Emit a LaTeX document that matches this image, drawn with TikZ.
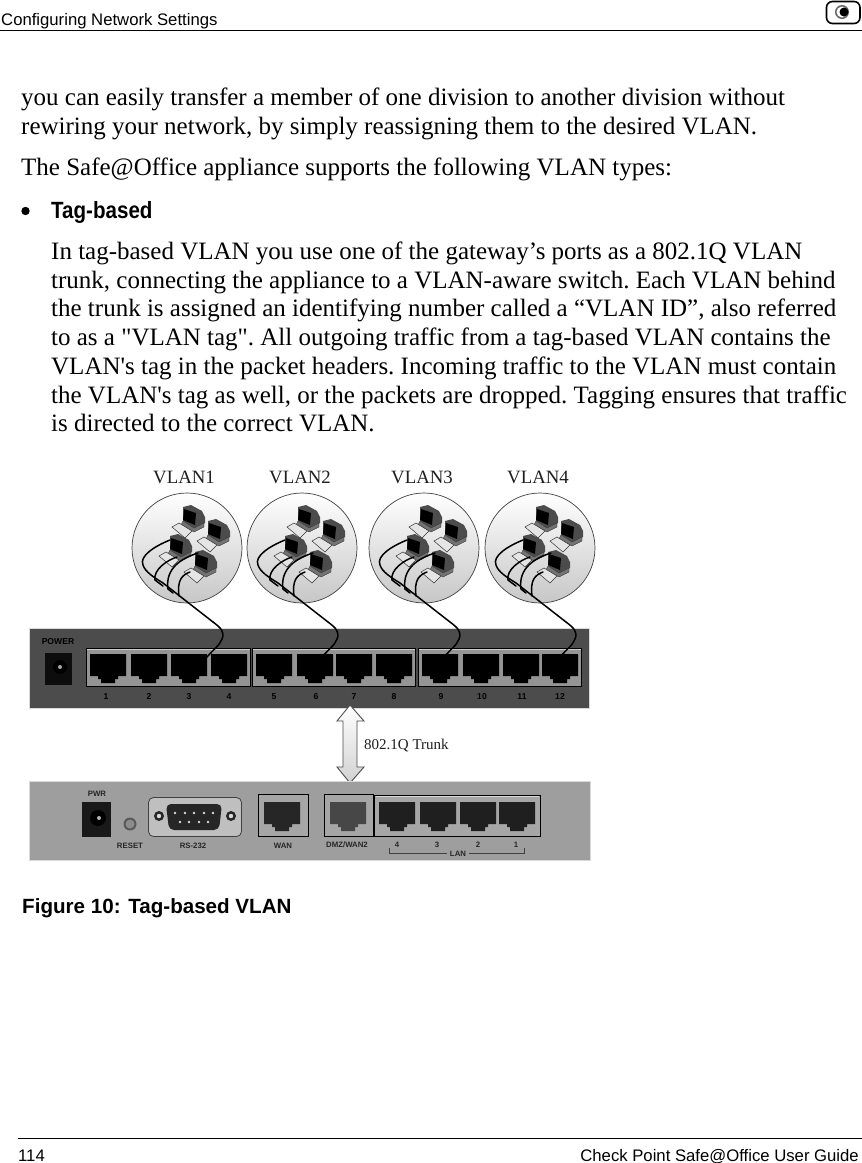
\documentclass[tikz,border=0pt]{standalone}
\usepackage{fontspec}
\setmainfont{Liberation Serif}
\setsansfont{Liberation Sans}
\newfontfamily\bodyfont{Liberation Serif}
\newfontfamily\headfont[FakeStretch=0.875]{Liberation Sans}
\usetikzlibrary{calc}
\tikzset{
  bodytext/.style={anchor=base west,inner sep=0pt,font=\bodyfont\frenchspacing\fontsize{25}{28}\selectfont},
  sanstext/.style={anchor=base west,inner sep=0pt,font=\sffamily\fontsize{16.7}{18}\selectfont},
  vlantext/.style={inner sep=0pt,font=\fontsize{18.8}{20}\selectfont,text=black!88},
  tinytop/.style={inner sep=0pt,text height=6pt,text depth=0pt,font=\sffamily\bfseries\fontsize{8.6}{9}\selectfont,text=black},
  tinybot/.style={inner sep=0pt,text height=5.6pt,text depth=0pt,font=\sffamily\bfseries\fontsize{7.8}{8}\selectfont,text=black!85},
  cable/.style={draw=black,line width=1.5pt,line cap=round},
  portgroup/.style={draw=black,line width=.8pt,fill=black!42},
  pics/port/.style={code={
    \fill[#1] (0,0)--(36,0)--(36,22)--(28,22)--(28,25)--(25,25)--(25,29)--(11,29)--(11,25)--(8,25)--(8,22)--(0,22)--cycle;
  }},
  pics/computer/.style={code={
    \fill[black!70] (-10,-11)--(-2,-13)--(9,-7)--(12,-1)--(12,5)--(2,11)--(-10,3)--cycle;
    \fill[black] (-9,-9)--(3,-5)--(2,7)--(-10,2)--cycle;
    \fill[black!55,draw=black!80,line width=.3pt] (-10,3)--(1,10)--(11,5)--(11,9)--(1,14)--(-12,7)--cycle;
    \fill[black!10,draw=black!80,line width=.5pt] (-21,9)--(-14,5)--(-1,13)--(-8,20)--cycle;
  }},
  pics/vlancircle/.style={code={
    \shade[top color=white,bottom color=black!22,draw=black!75,line width=.7pt] (0,0) circle[radius=55];
    \pic at (6,-30) {computer};
    \pic at (31,-16) {computer};
    \pic at (-7,-1) {computer};
    \pic at (18,15) {computer};
    \draw[cable] (-17,-8) .. controls (-32,-2) and (-48,8) .. (-44,17) .. controls (-42,24) and (-32,30) .. (-24,35) -- (26,74);
    \draw[cable] (-10,9) .. controls (-20,12) and (-34,22) .. (-32,32) -- (-24,38);
    \draw[cable] (11,5) .. controls (-5,10) and (-22,20) .. (-19,41) -- (-14,45);
    \draw[cable] (3,24) .. controls (-5,27) and (-10,32) .. (-8,48);
    \draw[cable] (26,74) .. controls (34,80) and (38,84) .. (35,91);
  }},
}
\begin{document}
\begin{tikzpicture}[x=1pt,y=-1pt]
\useasboundingbox (0,0) rectangle (862,1163);
\fill[white] (0,0) rectangle (862,1163);
% header
\node[sanstext] (head) at (1,25) {Configuring Network Settings};
\draw[black,line width=1pt] (0,30.5) -- (862,30.5);
\draw[black,line width=1.6pt,rounded corners=6pt] (826.5,1.5) rectangle (860,23.5);
\fill[black!60] (842,12) circle[radius=7];
\fill[white] (842,12) circle[radius=5.5];
\fill[black] (844,12) circle[radius=4.5];
% body
\node[bodytext] (l1) at (21,105) {you can easily transfer a member of one division to another division without};
\node[bodytext] (l2) at (21,134) {rewiring your network, by simply reassigning them to the desired VLAN.};
\node[bodytext] (l3) at (21,175) {The Safe@Office appliance supports the following VLAN types:};
\fill[black] (25.5,211) circle[radius=4.2];
\node[anchor=base west,inner sep=0pt,font=\headfont\bfseries\fontsize{23.5}{26}\selectfont] (tag) at (51,218) {Tag-based};
\node[bodytext] (p1) at (51,259) {In tag-based VLAN you use one of the gateway’s ports as a 802.1Q VLAN};
\node[bodytext] (p2) at (51,288) {trunk, connecting the appliance to a VLAN-aware switch. Each VLAN behind};
\node[bodytext] (p3) at (51,316) {the trunk is assigned an identifying number called a “VLAN ID”, also referred};
\node[bodytext] (p4) at (51,345) {to as a "VLAN tag". All outgoing traffic from a tag-based VLAN contains the};
\node[bodytext] (p5) at (51,374) {VLAN's tag in the packet headers. Incoming traffic to the VLAN must contain};
\node[bodytext] (p6) at (51,403) {the VLAN's tag as well, or the packets are dropped. Tagging ensures that traffic};
\node[bodytext] (p7) at (51,431) {is directed to the correct VLAN.};
% VLAN labels
\node[vlantext] (v1) at (184,477) {VLAN1};
\node[vlantext] (v2) at (300,477) {VLAN2};
\node[vlantext] (v3) at (422,477) {VLAN3};
\node[vlantext] (v4) at (538,477) {VLAN4};
% top panel
\fill[black!70,draw=black!15,line width=.6pt] (29,628.5) rectangle (589,708);
\node[tinytop] (power) at (58,641) {POWER};
\fill[black!95] (45,653) rectangle (72,685);
\fill[black] (60,667) circle[radius=7];
\fill[black!35] (60,667) circle[radius=2];
\foreach \a/\b in {86/250,252/415,418/581}{
  \filldraw[portgroup] (\a,648) rectangle (\b,686);
  \draw[black!20,line width=1pt] (\a+.5,649) -- (\b-.5,649);
}
\foreach \x in {90,131,171,211,256,297,336,376,422,463,503,542}{
  \pic at (\x,654) {port={black}};
}
\foreach \x/\n in {106/1,149/2,189/3,229/4,274/5,316/6,354/7,394/8,441/9,482/10,522/11,560/12}{
  \node[tinytop] (t\n) at (\x,696) {\n};
}
% circles and cables
\pic at (187,548) {vlancircle};
\pic at (302,548) {vlancircle};
\pic at (424,548) {vlancircle};
\pic at (540,548) {vlancircle};
\foreach \x in {187,302,424,540}{
  \draw[cable] (\x+35,639) .. controls (\x+33,645) and (\x+26,650) .. (\x+20,657);
}
% trunk arrow
\shade[top color=white,bottom color=black!18,draw=black!70,line width=.9pt]
  (350,705)--(364,721)--(357,721)--(357,767)--(364,767)--(350,783)--(337,767)--(343,767)--(343,721)--(337,721)--cycle;
\node[anchor=west,inner sep=0pt,font=\fontsize{15}{16}\selectfont,text=black!88] (trunk) at (364,746) {802.1Q Trunk};
% bottom panel
\fill[black!38,draw=black!15,line width=.6pt] (29,781) rectangle (590,860);
\node[tinybot] (pwr) at (97,794) {PWR};
\fill[black!90] (82,802) rectangle (111,837);
\fill[black] (98,818) circle[radius=8];
\fill[black!30] (99,818) circle[radius=2];
\fill[black!65] (130,824) circle[radius=6.5];
\fill[black!45] (130,824) circle[radius=4.5];
\node[tinybot] (reset) at (130,846) {RESET};
\filldraw[fill=black!25,draw=black!75,line width=.8pt,rounded corners=5pt] (148.5,797.5) rectangle (241.5,836.5);
\fill[black!85,rounded corners=5pt] (166,804) -- (222,804) -- (219,830) -- (169,830) -- cycle;
\foreach \x in {175,185,194,204,213}{\fill[black!15] (\x,813) circle[radius=1.3];}
\foreach \x in {180,189,199,208}{\fill[black!15] (\x,822) circle[radius=1.3];}
\foreach \x in {159,231}{\fill[black!85] (\x,816) circle[radius=5];\fill[black!15] (\x,816) circle[radius=2.2];}
\node[tinybot] (rs) at (193,846) {RS-232};
\filldraw[fill=black!35,draw=black,line width=1pt] (258,794.5) rectangle (308,836.5);
\pic at (264,802) {port={black!85}};
\node[tinybot] (wan) at (283,846) {WAN};
\filldraw[fill=black!35,draw=black,line width=1pt] (324,794.5) rectangle (373,836.5);
\pic at (330,802) {port={black!72}};
\filldraw[fill=black!35,draw=black,line width=1pt] (374.5,795) rectangle (540,836);
\draw[black!15,line width=1pt] (375.5,796) -- (539,796);
\foreach \x in {379,420,460,499}{\pic at (\x,802) {port={black!88}};}
\node[tinybot] (dmz) at (347,844.5) {DMZ/WAN2};
\foreach \x/\n in {397/4,437/3,478/2,516/1}{\node[tinybot] (b\n) at (\x,845) {\n};}
\node[tinybot,inner xsep=3pt] (lan) at (458,853.5) {LAN};
\draw[black!75,line width=.5pt] (389.5,848) -- (389.5,853.5) -- (lan.west);
\draw[black!75,line width=.5pt] (lan.east) -- (524,853.5) -- (524,848);
% caption
\node[anchor=base west,inner sep=0pt,font=\sffamily\bfseries\fontsize{20.6}{22}\selectfont] (cap) at (22,913) {Figure 10: Tag-based VLAN};
% footer
\draw[black,line width=1pt] (18,1138.5) -- (862,1138.5);
\node[sanstext] (pg) at (18,1161) {114};
\node[sanstext,anchor=base east] (guide) at (859,1161) {Check Point Safe@Office User Guide};
\end{tikzpicture}
\end{document}
